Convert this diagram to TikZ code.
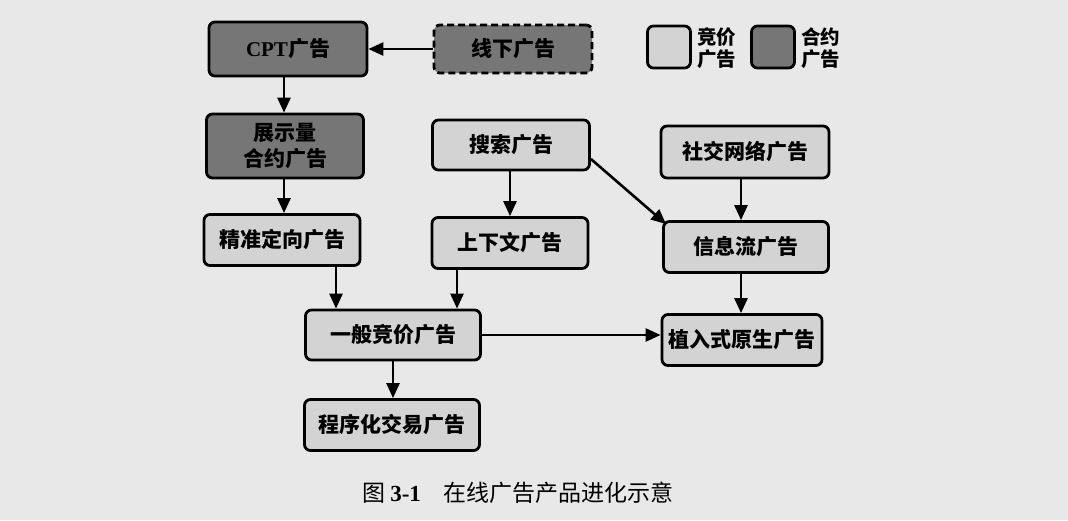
\documentclass[tikz,border=0pt]{standalone}
\usepackage{fontspec}
\newfontfamily\cjk{Noto Sans CJK SC}
\newfontfamily\tms{Liberation Serif}
\usetikzlibrary{arrows.meta,calc}
\definecolor{paper}{HTML}{E8E8E8}
\definecolor{lightfill}{HTML}{D3D3D3}
\definecolor{darkfill}{HTML}{767676}
\tikzset{
  box/.style={draw=black, line width=2.8pt, rounded corners=6pt, align=center,
    font=\cjk\bfseries\fontsize{21}{25}\selectfont, inner sep=2pt},
  lbox/.style={box, fill=lightfill},
  dbox/.style={box, fill=darkfill},
  arr/.style={line width=2.6pt, -{Triangle[length=15pt,width=13pt]}},
}
\begin{document}
\begin{tikzpicture}[x=1pt,y=-1pt]
\fill[paper] (0,0) rectangle (1068,520);
\useasboundingbox (0,0) rectangle (1068,520);
% nodes
\node[dbox, minimum width=158pt, minimum height=54pt] (cpt) at (288,49) {{\tms\bfseries CPT}广告};
\node[dbox, dashed, dash pattern=on 7pt off 4pt, minimum width=158pt, minimum height=48pt] (xx) at (513,49) {线下广告};
\node[dbox, minimum width=157pt, minimum height=64pt] (zs) at (285,146) {展示量\\[1pt]合约广告};
\node[lbox, minimum width=157pt, minimum height=50pt] (ss) at (511,145) {搜索广告};
\node[lbox, minimum width=168pt, minimum height=52pt] (sj) at (745,152) {社交网络广告};
\node[lbox, minimum width=156pt, minimum height=51pt] (jz) at (282,240) {精准定向广告};
\node[lbox, minimum width=156pt, minimum height=51pt] (sx) at (510,243) {上下文广告};
\node[lbox, minimum width=165pt, minimum height=51pt] (xl) at (746,247) {信息流广告};
\node[lbox, minimum width=175pt, minimum height=50pt] (yb) at (393,335) {一般竞价广告};
\node[lbox, minimum width=160pt, minimum height=51pt] (zr) at (742,340) {植入式原生广告};
\node[lbox, minimum width=175pt, minimum height=51pt] (cx) at (392,425) {程序化交易广告};
% legend
\node[lbox, minimum width=43pt, minimum height=42pt, inner sep=0pt] (lg1) at (669,47) {};
\node[anchor=west, align=left, font=\cjk\bfseries\fontsize{19.5}{22}\selectfont, inner sep=0pt] (lt1) at (697,48) {竞价\\广告};
\node[dbox, minimum width=43pt, minimum height=42pt, inner sep=0pt] (lg2) at (773,47) {};
\node[anchor=west, align=left, font=\cjk\bfseries\fontsize{19.5}{22}\selectfont, inner sep=0pt] (lt2) at (801,48) {合约\\广告};
% caption
\node[font=\cjk\fontsize{23}{26}\selectfont] (cap) at (518,493) {图 {\tms\bfseries 3-1}\hspace{1em}在线广告产品进化示意};
% coordinates
\coordinate (c1) at (284,0);
\coordinate (c2) at (336,0);
\coordinate (c3) at (457,0);
\coordinate (c4) at (741,0);
% arrows
\draw[arr] (xx.west) -- (cpt.east |- xx.west);
\draw[arr] (cpt.south -| c1) -- (zs.north -| c1);
\draw[arr] (zs.south -| c1) -- (jz.north -| c1);
\draw[arr] (ss.south -| sx.north) -- (sx.north);
\draw[arr] ($(ss.east)+(0,14)$) -- ($(xl.north west)+(4,4)$);
\draw[arr] (sj.south -| c4) -- (xl.north -| c4);
\draw[arr] (xl.south -| c4) -- (zr.north -| c4);
\draw[arr] (jz.south -| c2) -- (yb.north -| c2);
\draw[arr] (sx.south -| c3) -- (yb.north -| c3);
\draw[arr] (yb.east) -- (zr.west |- yb.east);
\draw[arr] (yb.south) -- (cx.north -| yb.south);
\end{tikzpicture}
\end{document}
